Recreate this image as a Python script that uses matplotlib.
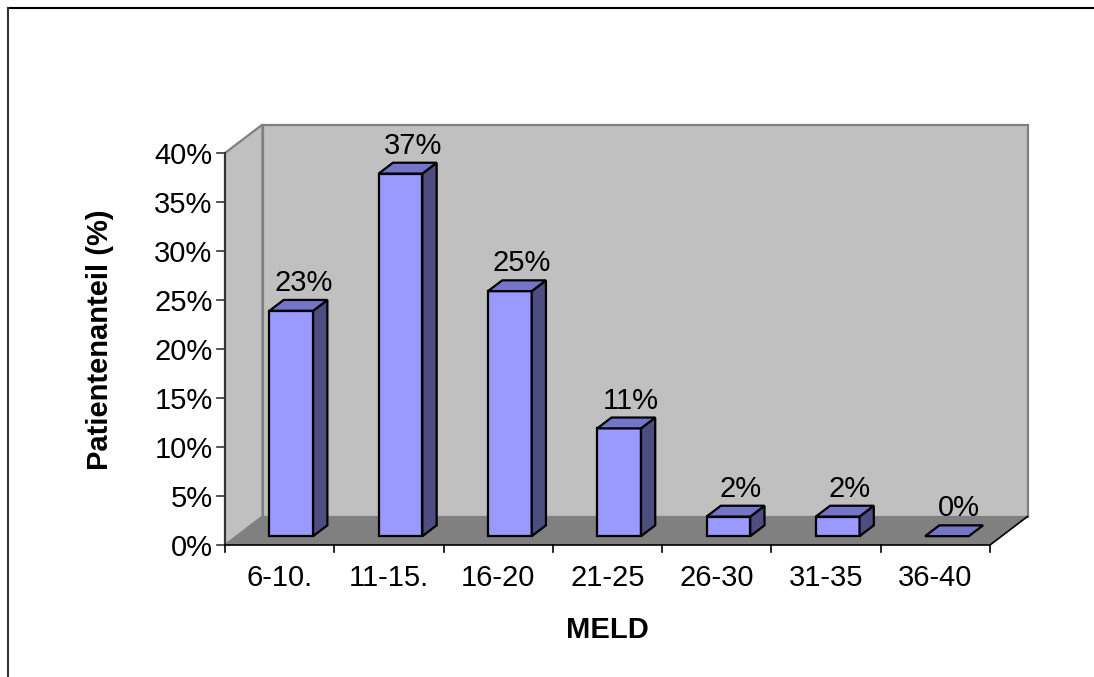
import matplotlib
matplotlib.use("Agg")
import matplotlib.pyplot as plt
from matplotlib.patches import Polygon
from matplotlib.lines import Line2D

plt.rcParams["font.family"] = ["Liberation Sans", "DejaVu Sans"]

# MELD score groups and share of patients (%)
categories = ["6-10.", "11-15.", "16-20", "21-25", "26-30", "31-35", "36-40"]
shares = [23, 37, 25, 11, 2, 2, 0]
y_ticks = [0, 5, 10, 15, 20, 25, 30, 35, 40]
x_label = "MELD"
y_label = "Patientenanteil (%)"

W, H, DPI = 1094, 677, 100
fig = plt.figure(figsize=(W / DPI, H / DPI), dpi=DPI)

n = len(categories)
ymax = 40
# pixel geometry of the oblique box
px_x0, px_x1 = 225, 990          # front floor edge
px_y0, px_y1 = 545, 153          # 0% and 40% on the front axis
ux = (px_x1 - px_x0) / n         # pixels per category
uy = (px_y0 - px_y1) / ymax      # pixels per percent
OX = 37.5 / ux                   # depth shift in category units
OY = 28.5 / uy                   # depth shift in percent units

ax_w = (n + OX) * ux
ax_h = (ymax + OY) * uy
ax = fig.add_axes([px_x0 / W, (H - px_y0) / H, ax_w / W, ax_h / H])
ax.set_xlim(0, n + OX)
ax.set_ylim(0, ymax + OY)
ax.axis("off")


def proj(x, y, d):
    return (x + d * OX, y + d * OY)


def poly(pts, fc, ec, lw, z):
    ax.add_patch(Polygon([proj(*p) for p in pts], closed=True, facecolor=fc,
                         edgecolor=ec, linewidth=lw, zorder=z, clip_on=False,
                         joinstyle="miter"))


wall = "#C0C0C0"
floor = "#808080"
edge_gray = "#808080"

# back wall, side wall, floor
poly([(0, 0, 1), (n, 0, 1), (n, ymax, 1), (0, ymax, 1)], wall, edge_gray, 1.6, 1)
poly([(0, 0, 0), (0, 0, 1), (0, ymax, 1), (0, ymax, 0)], wall, edge_gray, 1.6, 1)
poly([(0, 0, 0), (n, 0, 0), (n, 0, 1), (0, 0, 1)], floor, "none", 0, 2)

# floor front and right edges
fx, fy = zip(proj(0, 0, 0), proj(n, 0, 0), proj(n, 0, 1))
ax.add_line(Line2D(fx, fy, color="black", lw=1.2, zorder=3, clip_on=False))

# value axis
ax.add_line(Line2D([0, 0], [0, ymax], color="#333333", lw=1.5, zorder=4, clip_on=False))
tick_len_x = 8 / ux
tick_len_y = 7 / uy
for t in y_ticks:
    ax.add_line(Line2D([-tick_len_x, 0], [t, t], color="#333333", lw=1.2,
                       zorder=4, clip_on=False))
    ax.text(-12.5 / ux, t, f"{t}%", ha="right", va="center_baseline",
            fontsize=21, color="black")

# category ticks and labels
for i in range(n + 1):
    ax.add_line(Line2D([i, i], [0, -tick_len_y], color="black", lw=1.2,
                       zorder=4, clip_on=False))
for i, c in enumerate(categories):
    ax.text(i + 0.5, -41 / uy, c, ha="center", va="baseline", fontsize=21)

ax.text(n / 2, -93 / uy, x_label, ha="center", va="baseline", fontsize=21,
        fontweight="bold")
fig.text(100 / W, 1 - 340 / H, y_label, rotation=90, ha="center", va="center",
         fontsize=21, fontweight="bold")

# bars
bw = 0.4
d0, d1 = 0.31, 0.69
front_c, top_c, side_c = "#9999FF", "#7474C8", "#4D4D80"
for i, v in enumerate(shares):
    xl, xr = i + 0.5 - bw / 2, i + 0.5 + bw / 2
    if v > 0:
        poly([(xl, 0, d0), (xr, 0, d0), (xr, v, d0), (xl, v, d0)], front_c, "black", 1.6, 5)
        poly([(xr, 0, d0), (xr, 0, d1), (xr, v, d1), (xr, v, d0)], side_c, "black", 1.6, 5)
    poly([(xl, v, d0), (xr, v, d0), (xr, v, d1), (xl, v, d1)], top_c, "black", 1.6, 6)
    lx, ly = proj(i + 0.5, v, d1)
    ax.text(lx - 0.02, ly + 9 / uy, f"{v}%", ha="center",
            va="baseline", fontsize=21, zorder=7)

# chart area frame
fig.add_artist(Line2D([8 / W, 1], [1 - 8 / H, 1 - 8 / H], color="black", lw=1.5,
                      transform=fig.transFigure))
fig.add_artist(Line2D([8 / W, 8 / W], [0, 1 - 8 / H], color="#333333", lw=1.5,
                      transform=fig.transFigure))

fig.savefig("out.png", dpi=DPI, facecolor="white")
